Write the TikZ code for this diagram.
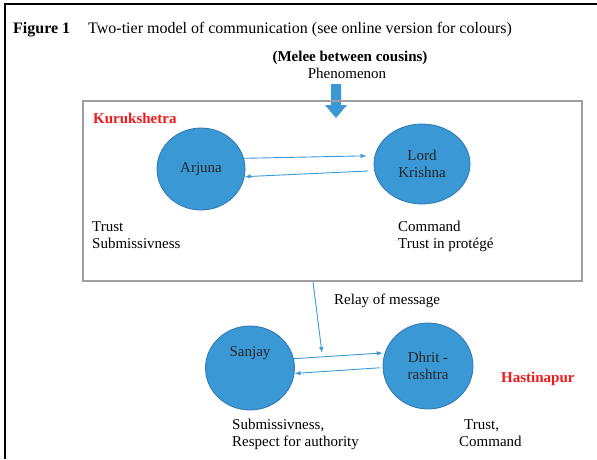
\documentclass[tikz,border=0pt]{standalone}
\usepackage{fontspec}
\setmainfont{Liberation Serif}
\usetikzlibrary{positioning, shapes.geometric, calc, arrows.meta}
\definecolor{tierBlue}{HTML}{3A98D4}
\definecolor{tierEdge}{HTML}{2F78B0}
\definecolor{tierLine}{HTML}{3C9AD8}
\definecolor{tierRed}{HTML}{F01818}

\begin{document}
\begin{tikzpicture}[
  x=1pt, y=-1pt,
  every node/.style={font=\fontsize{15}{17}\selectfont, inner sep=0pt},
  actor/.style={ellipse, draw=tierEdge, fill=tierBlue, thick, align=center, text=black!85},
  msg/.style={draw=tierLine, line width=0.9pt, -{Latex[length=6pt,width=4.5pt]}},
  lab/.style={anchor=base west, align=left},
  place/.style={anchor=base west, font=\fontsize{15}{17}\selectfont\bfseries, text=tierRed}
]
\useasboundingbox (0,0) rectangle (597,459);
\draw[line width=1.6pt] (597,4) -- (5,4) -- (5,459);

% caption
\node[anchor=base west, font=\fontsize{16}{18}\selectfont] (fig) at (13,33) {\textbf{Figure 1}};
\node[anchor=base west, font=\fontsize{16}{18}\selectfont] (cap) at (88,33) {Two-tier model of communication (see online version for colours)};

% phenomenon
\node[anchor=base] (melee) at (350,61) {\textbf{(Melee between cousins)}};
\node[below=7pt of melee.base, xshift=-3pt] (phen) {Phenomenon};
\fill[tierBlue] (331,84) -- (341,84) -- (341,105) -- (347,105) -- (336,118) -- (325,105) -- (331,105) -- cycle;

% Kurukshetra tier
\draw[gray!75, line width=1.2pt] (83,101) rectangle (582,281);
\node[place] (kuru) at (93,123) {Kurukshetra};
\node[actor, minimum width=88pt, minimum height=82pt] (arjuna) at (201,169) {Arjuna};
\node[actor, minimum width=96pt, minimum height=80pt] (krishna) at (422,164) {Lord\\Krishna};
\draw[msg, shorten >=8pt] (arjuna.14) -- (krishna.170);
\draw[msg, shorten <=6pt] (krishna.188) -- (arjuna.350);
\node[lab] (arjtrait) at (92,248) {Trust\\Submissivness};
\node[lab] (kritrait) at (398,248) {Command\\Trust in protégé};

% relay
\coordinate (relaytop) at (313,282);
\coordinate (relayend) at (322,353);
\draw[msg] (relaytop) -- (relayend);
\node[lab] (relay) at (334,304) {Relay of message};

% Hastinapur tier
\node[actor, minimum width=89pt, minimum height=84pt] (sanjay) at (250,368) {Sanjay\\[16pt]};
\node[actor, minimum width=90pt, minimum height=86pt] (dhrit) at (428,366) {Dhrit -\\rashtra};
\draw[msg, shorten >=2pt] (sanjay.12) -- (dhrit.163);
\draw[msg, shorten <=3pt] (dhrit.182) -- (sanjay.353);
\node[place] (hastina) at (501,382) {Hastinapur};
\node[lab] (santrait) at (232,446) {Submissivness,\\Respect for authority};
\node[lab] (dhrtrait) at (459,446) {\hspace*{5pt}Trust,\\Command};
\end{tikzpicture}
\end{document}
